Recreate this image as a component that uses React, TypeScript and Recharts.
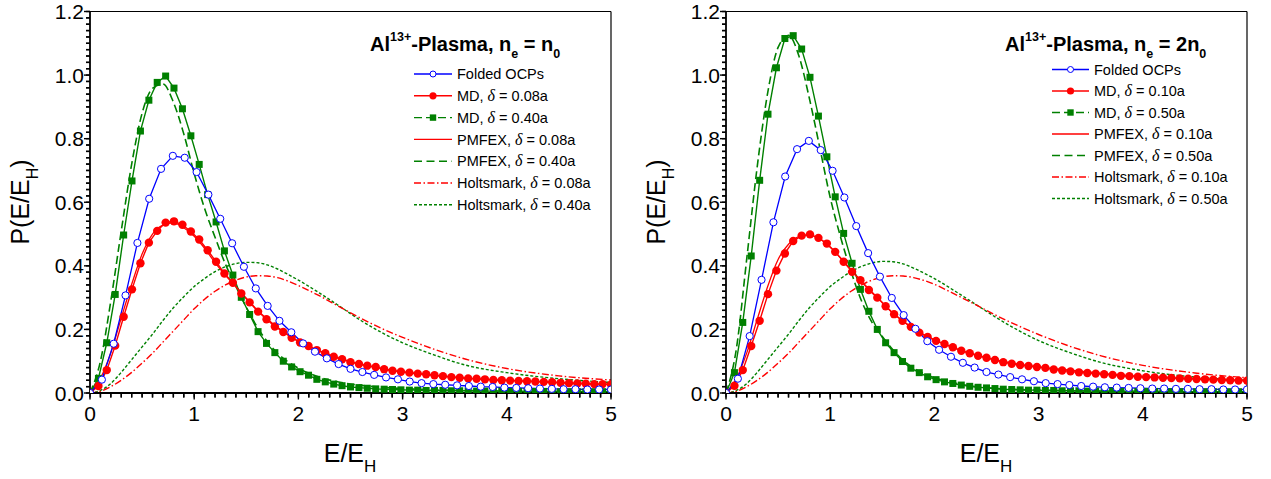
import React from 'react';
import { LineChart, Line, XAxis, YAxis, ReferenceLine } from 'recharts';

// ---------- x grids ----------
const mdX = [0, 0.081, 0.161, 0.242, 0.323, 0.403, 0.484, 0.565, 0.645, 0.726, 0.806, 0.887, 0.968, 1.048, 1.129, 1.21, 1.29, 1.371, 1.452, 1.532, 1.613, 1.694, 1.774, 1.855, 1.935, 2.016, 2.097, 2.177, 2.258, 2.339, 2.419, 2.5, 2.581, 2.661, 2.742, 2.823, 2.903, 2.984, 3.065, 3.145, 3.226, 3.306, 3.387, 3.468, 3.548, 3.629, 3.71, 3.79, 3.871, 3.952, 4.032, 4.113, 4.194, 4.274, 4.355, 4.435, 4.516, 4.597, 4.677, 4.758, 4.839, 4.919, 5.0];
const ocpX = [0, 0.114, 0.227, 0.341, 0.455, 0.568, 0.682, 0.795, 0.909, 1.023, 1.136, 1.25, 1.364, 1.477, 1.591, 1.705, 1.818, 1.932, 2.045, 2.159, 2.273, 2.386, 2.5, 2.614, 2.727, 2.841, 2.955, 3.068, 3.182, 3.295, 3.409, 3.523, 3.636, 3.75, 3.864, 3.977, 4.091, 4.205, 4.318, 4.432, 4.545, 4.659, 4.773, 4.886, 5.0];
const thX = [0, 0.1, 0.2, 0.3, 0.4, 0.5, 0.6, 0.7, 0.8, 0.9, 1.0, 1.1, 1.2, 1.3, 1.4, 1.5, 1.6, 1.7, 1.8, 1.9, 2.0, 2.2, 2.4, 2.6, 2.8, 3.0, 3.3, 3.6, 4.0, 4.5, 5.0];

// ---------- axis ticks ----------
const xMajor = [0, 1, 2, 3, 4, 5];
const xTickLabels = ['0', '1', '2', '3', '4', '5'];
const yMajor = [0, 0.2, 0.4, 0.6, 0.8, 1.0, 1.2];
const yTickLabels = ['0.0', '0.2', '0.4', '0.6', '0.8', '1.0', '1.2'];

// ---------- left panel (ne = n0) ----------
const L_ocp = [0, 0.042, 0.155, 0.307, 0.472, 0.611, 0.705, 0.746, 0.740, 0.695, 0.624, 0.548, 0.471, 0.397, 0.329, 0.274, 0.227, 0.191, 0.156, 0.130, 0.109, 0.091, 0.076, 0.066, 0.057, 0.049, 0.043, 0.036, 0.031, 0.028, 0.026, 0.024, 0.022, 0.020, 0.019, 0.017, 0.016, 0.015, 0.014, 0.013, 0.012, 0.012, 0.011, 0.011, 0.011];
const L_mdA = [0, 0.022, 0.072, 0.149, 0.24, 0.326, 0.408, 0.473, 0.51, 0.536, 0.54, 0.529, 0.508, 0.483, 0.449, 0.413, 0.376, 0.347, 0.313, 0.285, 0.256, 0.232, 0.209, 0.192, 0.174, 0.159, 0.148, 0.135, 0.125, 0.114, 0.106, 0.097, 0.091, 0.086, 0.082, 0.075, 0.070, 0.067, 0.064, 0.061, 0.059, 0.056, 0.053, 0.050, 0.048, 0.046, 0.045, 0.043, 0.041, 0.040, 0.039, 0.038, 0.037, 0.036, 0.035, 0.034, 0.032, 0.031, 0.030, 0.029, 0.028, 0.028, 0.027];
const L_mdB = [0, 0.046, 0.158, 0.31, 0.497, 0.667, 0.824, 0.921, 0.977, 0.997, 0.959, 0.894, 0.809, 0.719, 0.624, 0.538, 0.447, 0.371, 0.301, 0.247, 0.193, 0.156, 0.127, 0.10, 0.082, 0.067, 0.056, 0.043, 0.035, 0.028, 0.023, 0.019, 0.017, 0.015, 0.013, 0.012, 0.011, 0.010, 0.009, 0.009, 0.008, 0.008, 0.008, 0.007, 0.007, 0.007, 0.006, 0.006, 0.006, 0.006, 0.005, 0.005, 0.005, 0.005, 0.005, 0.005, 0.004, 0.004, 0.004, 0.004, 0.004, 0.004, 0.004];
const L_pmA = [0, 0.046, 0.127, 0.236, 0.342, 0.437, 0.50, 0.528, 0.535, 0.52, 0.493, 0.455, 0.41, 0.37, 0.335, 0.298, 0.263, 0.233, 0.207, 0.184, 0.163, 0.132, 0.108, 0.09, 0.077, 0.066, 0.056, 0.047, 0.04, 0.033, 0.027];
const L_pmB = [0, 0.10, 0.29, 0.51, 0.72, 0.88, 0.958, 0.972, 0.915, 0.815, 0.69, 0.58, 0.49, 0.405, 0.335, 0.27, 0.21, 0.162, 0.125, 0.098, 0.078, 0.05, 0.034, 0.024, 0.018, 0.014, 0.01, 0.008, 0.006, 0.005, 0.004];
const L_hoA = [0, 0.005, 0.02, 0.04, 0.065, 0.094, 0.125, 0.16, 0.195, 0.23, 0.265, 0.295, 0.32, 0.34, 0.355, 0.365, 0.369, 0.368, 0.363, 0.352, 0.338, 0.306, 0.27, 0.235, 0.203, 0.175, 0.138, 0.107, 0.077, 0.054, 0.041];
const L_hoB = [0, 0.008, 0.03, 0.065, 0.105, 0.145, 0.185, 0.228, 0.268, 0.303, 0.335, 0.36, 0.382, 0.397, 0.407, 0.411, 0.41, 0.403, 0.39, 0.373, 0.355, 0.315, 0.272, 0.228, 0.19, 0.158, 0.12, 0.088, 0.064, 0.045, 0.033];

// ---------- right panel (ne = 2n0) ----------
const R_ocp = [0, 0.045, 0.179, 0.356, 0.537, 0.681, 0.767, 0.793, 0.764, 0.699, 0.615, 0.525, 0.44, 0.366, 0.299, 0.245, 0.202, 0.163, 0.136, 0.114, 0.095, 0.080, 0.066, 0.058, 0.050, 0.043, 0.037, 0.031, 0.028, 0.025, 0.022, 0.020, 0.018, 0.017, 0.016, 0.015, 0.014, 0.014, 0.013, 0.013, 0.012, 0.012, 0.011, 0.011, 0.011];
const R_mdA = [0, 0.023, 0.072, 0.148, 0.227, 0.311, 0.385, 0.439, 0.478, 0.495, 0.499, 0.488, 0.470, 0.444, 0.413, 0.381, 0.355, 0.324, 0.300, 0.273, 0.248, 0.227, 0.208, 0.190, 0.176, 0.164, 0.154, 0.144, 0.133, 0.125, 0.117, 0.111, 0.104, 0.097, 0.092, 0.088, 0.085, 0.082, 0.079, 0.074, 0.071, 0.068, 0.065, 0.063, 0.061, 0.059, 0.057, 0.054, 0.053, 0.051, 0.050, 0.049, 0.048, 0.047, 0.046, 0.045, 0.044, 0.043, 0.042, 0.041, 0.040, 0.039, 0.039];
const R_mdB = [0, 0.064, 0.222, 0.431, 0.669, 0.877, 1.023, 1.115, 1.124, 1.082, 0.993, 0.871, 0.743, 0.617, 0.502, 0.408, 0.326, 0.257, 0.200, 0.158, 0.127, 0.099, 0.078, 0.064, 0.051, 0.042, 0.035, 0.030, 0.025, 0.021, 0.018, 0.016, 0.014, 0.012, 0.011, 0.010, 0.009, 0.009, 0.008, 0.008, 0.007, 0.007, 0.007, 0.006, 0.006, 0.006, 0.006, 0.005, 0.005, 0.005, 0.005, 0.005, 0.005, 0.004, 0.004, 0.004, 0.004, 0.004, 0.004, 0.004, 0.004, 0.004, 0.004];
const R_pmA = [0, 0.046, 0.127, 0.232, 0.335, 0.42, 0.468, 0.492, 0.496, 0.485, 0.458, 0.425, 0.388, 0.352, 0.318, 0.285, 0.252, 0.226, 0.203, 0.184, 0.168, 0.14, 0.12, 0.103, 0.091, 0.082, 0.072, 0.062, 0.052, 0.045, 0.039];
const R_pmB = [0, 0.14, 0.425, 0.713, 0.944, 1.087, 1.125, 1.06, 0.927, 0.772, 0.615, 0.49, 0.382, 0.29, 0.223, 0.178, 0.137, 0.103, 0.078, 0.061, 0.048, 0.031, 0.02, 0.014, 0.011, 0.009, 0.007, 0.006, 0.005, 0.004, 0.004];
const R_hoA = [0, 0.005, 0.02, 0.04, 0.065, 0.094, 0.125, 0.16, 0.195, 0.23, 0.265, 0.295, 0.32, 0.34, 0.355, 0.365, 0.369, 0.368, 0.363, 0.354, 0.342, 0.31, 0.277, 0.243, 0.212, 0.184, 0.147, 0.117, 0.087, 0.063, 0.048];
const R_hoB = [0, 0.008, 0.03, 0.065, 0.105, 0.145, 0.185, 0.228, 0.268, 0.303, 0.335, 0.36, 0.382, 0.398, 0.409, 0.414, 0.413, 0.406, 0.393, 0.377, 0.36, 0.32, 0.278, 0.236, 0.198, 0.165, 0.127, 0.096, 0.07, 0.05, 0.04];

const leftLabels = ['Folded OCPs', 'MD, |0.08a', 'MD, |0.40a', 'PMFEX, |0.08a', 'PMFEX, |0.40a', 'Holtsmark, |0.08a', 'Holtsmark, |0.40a'];
const rightLabels = ['Folded OCPs', 'MD, |0.10a', 'MD, |0.50a', 'PMFEX, |0.10a', 'PMFEX, |0.50a', 'Holtsmark, |0.10a', 'Holtsmark, |0.50a'];

const FONT = '"Liberation Sans", Arial, Helvetica, sans-serif';
const RED = '#ff0000';
const GREEN = '#008000';
const BLUE = '#0000ff';

const pts = (xs: number[], ys: number[]) => xs.map((x, i) => ({ x, y: ys[i] }));

// minor tick positions (axis decoration only)
const xMinor: number[] = [];
for (let i = 0; i <= 50; i++) xMinor.push(i / 10);
const yMinor: number[] = [];
for (let i = 0; i <= 60; i++) yMinor.push(Math.round(i * 2) / 100);
const isXMajor = (v: number) => xMajor.some((m) => Math.abs(m - v) < 1e-6);
const isYMajor = (v: number) => yMajor.some((m) => Math.abs(m - v) < 1e-6);
// tick lengths in data units (plot: 5 units = 521 px, 1.2 units = 381.5 px)
const X_PER_PX = 5 / 521;
const Y_PER_PX = 1.2 / 381.5;

function xLabelTick(props: any) {
  const { x, y, payload, index } = props;
  const idx = xMajor.findIndex((m) => Math.abs(m - payload.value) < 1e-6);
  if (idx < 0) return <g key={`xt${index}`} />;
  return (
    <text key={`xt${index}`} x={x} y={y + 23.5} textAnchor="middle" fontSize={21} fontFamily={FONT} fill="#000" stroke="none">
      {xTickLabels[idx]}
    </text>
  );
}

function yLabelTick(props: any) {
  const { x, y, payload, index } = props;
  const idx = yMajor.findIndex((m) => Math.abs(m - payload.value) < 1e-6);
  if (idx < 0) return <g key={`yt${index}`} />;
  return (
    <text key={`yt${index}`} x={x - 2} y={y + 7.5} textAnchor="end" fontSize={21} fontFamily={FONT} fill="#000" stroke="none">
      {yTickLabels[idx]}
    </text>
  );
}

const Square = (props: any) => {
  const { cx, cy, index } = props;
  if (cx == null || cy == null) return <g key={`s${index}`} />;
  return <rect key={`s${index}`} x={cx - 3.5} y={cy - 3.5} width={7} height={7} fill={GREEN} stroke="none" />;
};

type PanelData = {
  ocp: number[]; mdA: number[]; mdB: number[]; pmA: number[]; pmB: number[]; hoA: number[]; hoB: number[];
};

const tl = { stroke: '#000', strokeWidth: 1.4 };

const Panel = ({ d }: { d: PanelData }) => (
  <LineChart width={635} height={479} margin={{ top: 10.5, right: 23, bottom: 56, left: 40 }}>
    <XAxis
      dataKey="x"
      type="number"
      domain={[0, 5]}
      ticks={xMinor}
      interval={0}
      tick={xLabelTick}
      tickLine={tl}
      tickSize={4.5}
      tickMargin={0}
      stroke="#000"
      height={30}
      axisLine={{ stroke: '#000', strokeWidth: 1.8 }}
      allowDataOverflow
    />
    <XAxis xAxisId="top" orientation="top" type="number" domain={[0, 5]} ticks={[]} tick={false} tickLine={false} height={1} axisLine={{ stroke: '#000', strokeWidth: 1.2 }} />
    <YAxis
      type="number"
      domain={[0, 1.2]}
      ticks={yMinor}
      interval={0}
      tick={yLabelTick}
      tickLine={tl}
      tickSize={4}
      tickMargin={0}
      stroke="#000"
      width={50}
      axisLine={{ stroke: '#000', strokeWidth: 1.8 }}
      allowDataOverflow
    />
    <YAxis yAxisId="right" orientation="right" type="number" domain={[0, 1.2]} ticks={[]} tick={false} tickLine={false} width={1} axisLine={{ stroke: '#000', strokeWidth: 1.2 }} />

    {xMinor.map((v) => (
      <ReferenceLine
        key={`rx${v}`}
        segment={[{ x: v, y: 0 }, { x: v, y: -(isXMajor(v) ? 6.5 : 4.5) * Y_PER_PX }]}
        ifOverflow="visible"
        stroke="#000"
        strokeWidth={1.4}
      />
    ))}
    {yMinor.map((v) => (
      <ReferenceLine
        key={`ry${v}`}
        segment={[{ x: 0, y: v }, { x: -(isYMajor(v) ? 6 : 4) * X_PER_PX, y: v }]}
        ifOverflow="visible"
        stroke="#000"
        strokeWidth={1.4}
      />
    ))}

    <Line data={pts(thX, d.hoB)} dataKey="y" type="monotone" stroke={GREEN} strokeWidth={1.4} strokeDasharray="3 2" dot={false} activeDot={false} isAnimationActive={false} />
    <Line data={pts(thX, d.hoA)} dataKey="y" type="monotone" stroke={RED} strokeWidth={1.4} strokeDasharray="7 2.5 1.5 2.5" dot={false} activeDot={false} isAnimationActive={false} />
    <Line data={pts(thX, d.pmB)} dataKey="y" type="monotone" stroke={GREEN} strokeWidth={1.6} strokeDasharray="8 4" dot={false} activeDot={false} isAnimationActive={false} />
    <Line data={pts(thX, d.pmA)} dataKey="y" type="monotone" stroke={RED} strokeWidth={1.3} dot={false} activeDot={false} isAnimationActive={false} />
    <Line data={pts(mdX, d.mdB)} dataKey="y" type="linear" stroke={GREEN} strokeWidth={1.4} dot={Square} activeDot={false} isAnimationActive={false} />
    <Line data={pts(mdX, d.mdA)} dataKey="y" type="linear" stroke={RED} strokeWidth={1.4} dot={{ r: 4.2, fill: RED, stroke: 'none' }} activeDot={false} isAnimationActive={false} />
    <Line data={pts(ocpX, d.ocp)} dataKey="y" type="linear" stroke={BLUE} strokeWidth={1.3} dot={{ r: 3.6, fill: '#fff', stroke: BLUE, strokeWidth: 1 }} activeDot={false} isAnimationActive={false} />
  </LineChart>
);

const LegendBlock = ({ x1, x2, tx, y0, dy, labels }: { x1: number; x2: number; tx: number; y0: number; dy: number; labels: string[] }) => {
  const mid = (x1 + x2) / 2;
  const samples = [
    { stroke: BLUE, dash: undefined, marker: 'open' },
    { stroke: RED, dash: undefined, marker: 'circle' },
    { stroke: GREEN, dash: '8 4', marker: 'square' },
    { stroke: RED, dash: undefined, marker: '' },
    { stroke: GREEN, dash: '8 4.5', marker: '' },
    { stroke: RED, dash: '7 2.5 1.5 2.5', marker: '' },
    { stroke: GREEN, dash: '3 2', marker: '' },
  ];
  return (
    <g>
      {labels.map((lab, i) => {
        const y = y0 + i * dy;
        const s = samples[i];
        const parts = lab.split('|');
        return (
          <g key={i}>
            <line x1={x1} y1={y} x2={x2} y2={y} stroke={s.stroke} strokeWidth={1.4} strokeDasharray={s.dash} />
            {s.marker === 'open' && <circle cx={mid} cy={y} r={3} fill="#fff" stroke={BLUE} strokeWidth={1} />}
            {s.marker === 'circle' && <circle cx={mid} cy={y} r={3.6} fill={RED} />}
            {s.marker === 'square' && <rect x={mid - 3.2} y={y - 3.2} width={6.4} height={6.4} fill={GREEN} />}
            <text x={tx} y={y + 5.2} fontSize={14.5} fontFamily={FONT} fill="#000">
              {parts.length > 1 ? (
                <>
                  {parts[0]}
                  <tspan fontFamily='"Liberation Serif", "DejaVu Serif", serif' fontStyle="italic" fontSize={16}>δ</tspan>
                  {' = ' + parts[1]}
                </>
              ) : (
                parts[0]
              )}
            </text>
          </g>
        );
      })}
    </g>
  );
};

const Title = ({ x, y, lead }: { x: number; y: number; lead: string }) => (
  <text x={x} y={y} fontSize={20} fontWeight="bold" fontFamily={FONT} fill="#000">
    Al
    <tspan fontSize={12.5} dy={-10}>13+</tspan>
    <tspan dy={10}>-Plasma, n</tspan>
    <tspan fontSize={12.5} dy={7}>e</tspan>
    <tspan dy={-7}>{' = ' + lead + 'n'}</tspan>
    <tspan fontSize={12.5} dy={7}>0</tspan>
  </text>
);

const YTitle = ({ cx, cy }: { cx: number; cy: number }) => (
  <text transform={`translate(${cx},${cy}) rotate(-90)`} textAnchor="middle" fontSize={25} fontFamily={FONT} fill="#000">
    P(E/E<tspan fontSize={16} dy={9}>H</tspan><tspan dy={-9}>)</tspan>
  </text>
);

const XTitle = ({ cx, cy }: { cx: number; cy: number }) => (
  <text x={cx} y={cy} textAnchor="middle" fontSize={25} fontFamily={FONT} fill="#000">
    E/E<tspan fontSize={17} dy={10}>H</tspan>
  </text>
);

export default function App() {
  const left: PanelData = { ocp: L_ocp, mdA: L_mdA, mdB: L_mdB, pmA: L_pmA, pmB: L_pmB, hoA: L_hoA, hoB: L_hoB };
  const right: PanelData = { ocp: R_ocp, mdA: R_mdA, mdB: R_mdB, pmA: R_pmA, pmB: R_pmB, hoA: R_hoA, hoB: R_hoB };
  return (
    <div style={{ position: 'absolute', left: 0, top: 0, width: 1271, height: 479, background: '#fff', overflow: 'hidden' }}>
      <div style={{ position: 'absolute', left: 0, top: 0 }}>
        <Panel d={left} />
      </div>
      <div style={{ position: 'absolute', left: 636, top: 0 }}>
        <Panel d={right} />
      </div>
      <svg width={1271} height={479} style={{ position: 'absolute', left: 0, top: 0, pointerEvents: 'none' }}>
        <Title x={370} y={51} lead="" />
        <Title x={1005} y={51} lead="2" />
        <LegendBlock x1={414} x2={452} tx={457} y0={74} dy={21.8} labels={leftLabels} />
        <LegendBlock x1={1052} x2={1089} tx={1094} y0={69.5} dy={21.5} labels={rightLabels} />
        <YTitle cx={29} cy={202} />
        <YTitle cx={665} cy={202} />
        <XTitle cx={350} cy={462} />
        <XTitle cx={986} cy={462} />
      </svg>
    </div>
  );
}
